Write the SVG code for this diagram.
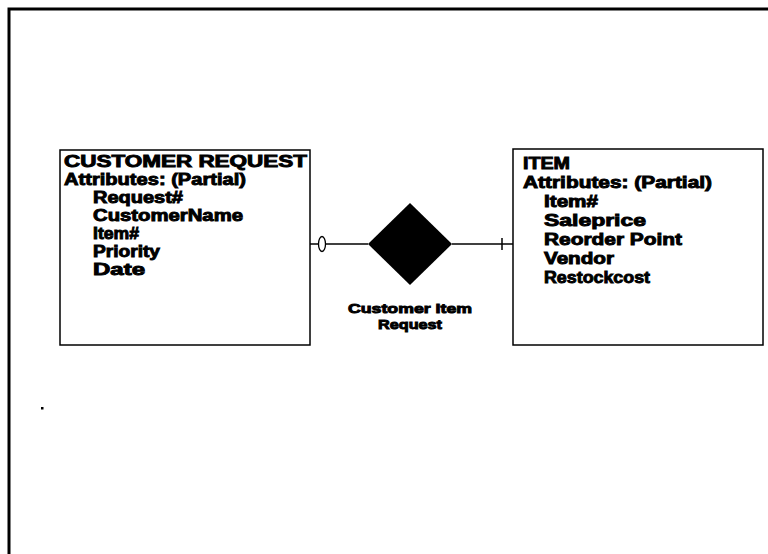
<svg xmlns="http://www.w3.org/2000/svg" width="768" height="554" viewBox="0 0 768 554">
<style>
.t{font-family:"Liberation Sans",Arial,sans-serif;font-weight:bold;fill:#000;stroke:#000;stroke-width:0.9}
.h{font-size:16px}
.s{font-size:13px}
.box{fill:none;stroke:#000;stroke-width:1.5}
.ln{fill:none;stroke:#000;stroke-width:1.5}
</style>
<rect width="768" height="554" fill="#fff"/>
<g id="frame">
<path d="M9,554 V9 H768" fill="none" stroke="#000" stroke-width="3"/>
<rect x="41" y="407" width="2.5" height="2.5" fill="#000"/>
</g>
<g id="connectors">
<line class="ln" x1="310" y1="244" x2="368" y2="244"/>
<ellipse cx="322" cy="244" rx="3.5" ry="7.5" fill="#fff" stroke="#000" stroke-width="1.3"/>
<line class="ln" x1="452" y1="244" x2="513" y2="244"/>
<line class="ln" x1="502" y1="238" x2="502" y2="250"/>
</g>
<g id="customer-request">
<rect class="box" x="60" y="150" width="250" height="195"/>
<text class="t h" x="64" y="167" textLength="243" lengthAdjust="spacingAndGlyphs">CUSTOMER REQUEST</text>
<text class="t h" x="64" y="185" textLength="182" lengthAdjust="spacingAndGlyphs">Attributes: (Partial)</text>
<text class="t h" x="93" y="203" textLength="90" lengthAdjust="spacingAndGlyphs">Request#</text>
<text class="t h" x="93" y="221" textLength="150" lengthAdjust="spacingAndGlyphs">CustomerName</text>
<text class="t h" x="93" y="239" textLength="46" lengthAdjust="spacingAndGlyphs">Item#</text>
<text class="t h" x="93" y="257" textLength="67" lengthAdjust="spacingAndGlyphs">Priority</text>
<text class="t h" x="93" y="275" textLength="52" lengthAdjust="spacingAndGlyphs">Date</text>
</g>
<g id="customer-item-request">
<polygon points="410,203 452,244 410,285 368,244" fill="#000"/>
<text class="t s" x="410" y="313" text-anchor="middle" textLength="124" lengthAdjust="spacingAndGlyphs">Customer Item</text>
<text class="t s" x="410" y="329" text-anchor="middle" textLength="64" lengthAdjust="spacingAndGlyphs">Request</text>
</g>
<g id="item">
<rect class="box" x="513" y="149" width="250" height="196"/>
<text class="t h" x="523" y="169" textLength="47" lengthAdjust="spacingAndGlyphs">ITEM</text>
<text class="t h" x="523" y="188" textLength="189" lengthAdjust="spacingAndGlyphs">Attributes:  (Partial)</text>
<text class="t h" x="544" y="207" textLength="54" lengthAdjust="spacingAndGlyphs">Item#</text>
<text class="t h" x="544" y="226" textLength="102" lengthAdjust="spacingAndGlyphs">Saleprice</text>
<text class="t h" x="544" y="245" textLength="138" lengthAdjust="spacingAndGlyphs">Reorder Point</text>
<text class="t h" x="544" y="264" textLength="70" lengthAdjust="spacingAndGlyphs">Vendor</text>
<text class="t h" x="544" y="283" textLength="106" lengthAdjust="spacingAndGlyphs">Restockcost</text>
</g>
</svg>
